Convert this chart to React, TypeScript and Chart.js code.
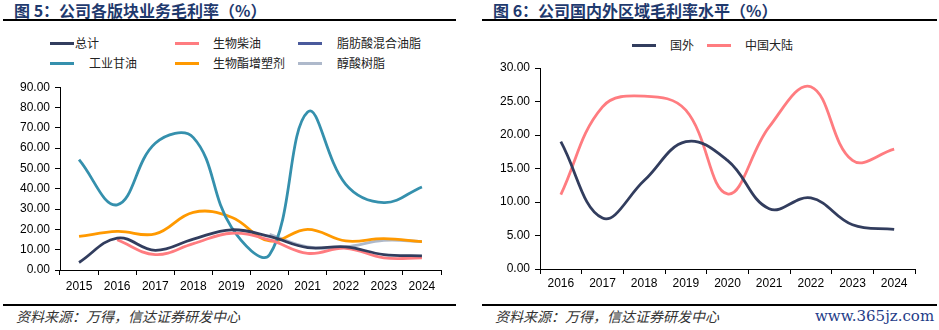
import React, { useEffect, useRef } from "react";
import { Chart, registerables } from "chart.js";

Chart.register(...registerables);

if (typeof document !== "undefined") {
  document.body.style.margin = "0";
}

// ---------- Data: Figure 5 ----------
const leftYears = ["2015", "2016", "2017", "2018", "2019", "2020", "2021", "2022", "2023", "2024"];
const totalMargin = [3.7, 15.7, 9.7, 15.2, 19.8, 16.5, 11.0, 11.4, 7.6, 7.0];
const biodieselMargin = [null, 14.9, 7.6, 13.0, 18.1, 14.8, 8.2, 10.7, 6.0, 6.0];
const fattyAcidOilMargin = [null, null, null, null, null, null, null, null, null, null];
const glycerinMargin = [54.3, 32.1, 62.4, 65.2, 21.0, 7.5, 77.8, 42.2, 33.2, 40.9];
const plasticizerMargin = [16.5, 19.0, 17.8, 28.4, 26.0, 14.3, 20.0, 14.3, 15.4, 14.0];
const alkydResinMargin = [null, null, null, null, null, 17.5, 11.4, 11.4, 14.6, 14.0];
const leftYMax = 90;
const leftYStep = 10;

// ---------- Data: Figure 6 ----------
const rightYears = ["2016", "2017", "2018", "2019", "2020", "2021", "2022", "2023", "2024"];
const overseasMargin = [19.0, 7.6, 13.2, 19.0, 16.2, 9.0, 10.6, 6.6, 5.9];
const mainlandMargin = [11.1, 24.2, 25.8, 23.7, 11.2, 21.2, 27.2, 16.2, 17.9];
const rightYMax = 30;
const rightYStep = 5;

const C_NAVY = "#323D5E";
const C_PINK = "#FF7C80";
const C_BLUE = "#4A5A9C";
const C_TEAL = "#3590AD";
const C_ORANGE = "#FF9900";
const C_GRAY = "#AEB9CB";

const TICK_FONT = { family: "'Liberation Sans', Arial, sans-serif", size: 12 };
const CJK = "'Noto Sans CJK SC', 'Noto Sans', sans-serif";

type DS = { label: string; data: (number | null)[]; color: string };

function LineChart(props: {
  labels: string[];
  series: DS[];
  yMax: number;
  yStep: number;
  width: number;
  height: number;
  left: number;
  top: number;
  yAxisWidth: number;
  xAxisHeight: number;
  padTop: number;
  padRight: number;
  xLabelPad: number;
}) {
  const ref = useRef<HTMLCanvasElement | null>(null);
  useEffect(() => {
    if (!ref.current) return;
    const chart = new Chart(ref.current, {
      type: "line",
      data: {
        labels: props.labels,
        datasets: props.series.map((s) => ({
          label: s.label,
          data: s.data,
          borderColor: s.color,
          backgroundColor: s.color,
          borderWidth: 2.8,
          pointRadius: 0,
          pointHoverRadius: 0,
          tension: 0.4,
          fill: false,
          spanGaps: false,
        })),
      },
      options: {
        responsive: false,
        animation: false,
        devicePixelRatio: 1,
        layout: { padding: { top: props.padTop, right: props.padRight, left: 0, bottom: 0 } },
        plugins: { legend: { display: false }, tooltip: { enabled: false } },
        scales: {
          x: {
            offset: true,
            grid: {
              display: true,
              offset: true,
              drawOnChartArea: false,
              drawTicks: true,
              tickLength: 5,
              color: "#000",
            },
            border: { display: true, color: "#000", width: 1 },
            ticks: { color: "#000", font: TICK_FONT, padding: props.xLabelPad, maxRotation: 0 },
            afterFit: (scale: any) => {
              scale.height = props.xAxisHeight;
            },
          },
          y: {
            min: 0,
            max: props.yMax,
            grid: {
              display: true,
              drawOnChartArea: false,
              drawTicks: true,
              tickLength: 5,
              color: "#000",
            },
            border: { display: true, color: "#000", width: 1 },
            ticks: {
              stepSize: props.yStep,
              color: "#000",
              font: TICK_FONT,
              padding: 5,
              callback: (v: any) => Number(v).toFixed(2),
            },
            afterFit: (scale: any) => {
              scale.width = props.yAxisWidth;
            },
          },
        },
      },
    });
    return () => chart.destroy();
  }, []);
  return (
    <canvas
      ref={ref}
      width={props.width}
      height={props.height}
      style={{ position: "absolute", left: props.left, top: props.top, width: props.width, height: props.height }}
    />
  );
}

function LegendItem(p: { x: number; y: number; textX: number; color: string; text: string }) {
  return (
    <>
      <div style={{ position: "absolute", left: p.x, top: p.y - 1.5, width: 24, height: 3, background: p.color }} />
      <div
        style={{
          position: "absolute",
          left: p.textX,
          top: p.y - 10,
          height: 20,
          lineHeight: "20px",
          fontFamily: CJK,
          fontSize: 12,
          color: "#222",
          whiteSpace: "nowrap",
        }}
      >
        {p.text}
      </div>
    </>
  );
}

function Title(p: { x: number; lineLeft: number; lineRight: number; text: string }) {
  return (
    <>
      <div
        style={{
          position: "absolute",
          left: p.x,
          top: -2,
          height: 24,
          lineHeight: "24px",
          fontFamily: CJK,
          fontSize: 16,
          fontWeight: 700,
          color: "#1F3A6E",
          whiteSpace: "nowrap",
        }}
      >
        {p.text}
      </div>
      <div style={{ position: "absolute", left: p.lineLeft, top: 19, width: p.lineRight - p.lineLeft, height: 1.5, background: "#000" }} />
    </>
  );
}

function Footer(p: { x: number; lineLeft: number; lineRight: number; text: string }) {
  return (
    <>
      <div style={{ position: "absolute", left: p.lineLeft, top: 304, width: p.lineRight - p.lineLeft, height: 1.5, background: "#000" }} />
      <div
        style={{
          position: "absolute",
          left: p.x,
          top: 305,
          height: 22,
          lineHeight: "22px",
          fontFamily: CJK,
          fontSize: 14,
          fontStyle: "italic",
          color: "#333",
          whiteSpace: "nowrap",
        }}
      >
        {p.text}
      </div>
    </>
  );
}

export default function App() {
  const leftSeries: DS[] = [
    { label: "总计", data: totalMargin, color: C_NAVY },
    { label: "生物柴油", data: biodieselMargin, color: C_PINK },
    { label: "脂肪酸混合油脂", data: fattyAcidOilMargin, color: C_BLUE },
    { label: "工业甘油", data: glycerinMargin, color: C_TEAL },
    { label: "生物酯增塑剂", data: plasticizerMargin, color: C_ORANGE },
    { label: "醇酸树脂", data: alkydResinMargin, color: C_GRAY },
  ];
  const rightSeries: DS[] = [
    { label: "国外", data: overseasMargin, color: C_NAVY },
    { label: "中国大陆", data: mainlandMargin, color: C_PINK },
  ];
  return (
    <div style={{ position: "relative", width: 939, height: 330, background: "#fff" }}>
      {/* Left panel */}
      <Title x={14} lineLeft={3} lineRight={456} text="图 5：公司各版块业务毛利率（%）" />
      <LegendItem x={50} y={43} textX={75} color={C_NAVY} text="总计" />
      <LegendItem x={175} y={43} textX={213} color={C_PINK} text="生物柴油" />
      <LegendItem x={298} y={43} textX={337} color={C_BLUE} text="脂肪酸混合油脂" />
      <LegendItem x={50} y={63} textX={89} color={C_TEAL} text="工业甘油" />
      <LegendItem x={175} y={63} textX={213} color={C_ORANGE} text="生物酯增塑剂" />
      <LegendItem x={298} y={63} textX={337} color={C_GRAY} text="醇酸树脂" />
      <LineChart
        labels={leftYears}
        series={leftSeries}
        yMax={leftYMax}
        yStep={leftYStep}
        left={0}
        top={75}
        width={460}
        height={220}
        yAxisWidth={60}
        xAxisHeight={25}
        padTop={11}
        padRight={19}
        xLabelPad={4}
      />
      <Footer x={16} lineLeft={3} lineRight={456} text="资料来源：万得，信达证券研发中心" />

      {/* Right panel */}
      <Title x={493} lineLeft={482} lineRight={937} text="图 6：公司国内外区域毛利率水平（%）" />
      <LegendItem x={632} y={45} textX={670} color={C_NAVY} text="国外" />
      <LegendItem x={707} y={45} textX={745} color={C_PINK} text="中国大陆" />
      <LineChart
        labels={rightYears}
        series={rightSeries}
        yMax={rightYMax}
        yStep={rightYStep}
        left={470}
        top={55}
        width={469}
        height={240}
        yAxisWidth={70}
        xAxisHeight={26}
        padTop={13}
        padRight={24}
        xLabelPad={2}
      />
      <Footer x={495} lineLeft={482} lineRight={937} text="资料来源：万得，信达证券研发中心" />
      <div
        style={{
          position: "absolute",
          left: 815,
          top: 305,
          height: 22,
          lineHeight: "22px",
          fontFamily: "'DejaVu Serif', 'Liberation Serif', serif",
          fontSize: 15,
          color: "#1F3C88",
          whiteSpace: "nowrap",
        }}
      >
        www.365jz.com
      </div>
    </div>
  );
}
